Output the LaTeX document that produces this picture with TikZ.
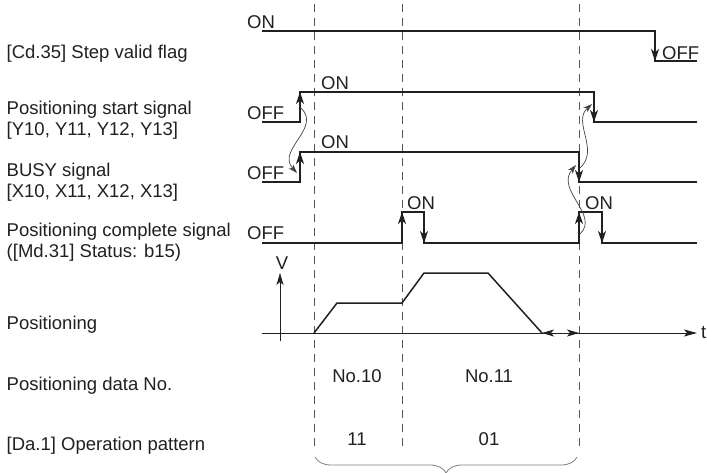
\documentclass[tikz,border=0pt]{standalone}
\usepackage{fontspec}
\setmainfont{Liberation Sans}
\usetikzlibrary{arrows.meta, decorations.pathreplacing}
\definecolor{ink}{HTML}{231F20}
\definecolor{guidegray}{HTML}{555555}
\definecolor{bracegray}{HTML}{808080}

\begin{document}
\begin{tikzpicture}[
  x=1pt, y=-1pt,
  font=\fontsize{18.5}{21}\selectfont,
  lbl/.style={anchor=west, inner sep=0pt, align=left, text=ink},
  lvl/.style={anchor=base west, inner sep=0pt, text=ink},
  val/.style={inner sep=0pt, text=ink},
  sig/.style={draw=ink, line width=1.8pt},
  tran/.style={draw=ink, line width=1.8pt, -{Stealth[length=12pt, width=8pt, inset=3.5pt]}},
  cause/.style={draw=ink!85, line width=0.7pt, -{Stealth[length=9pt, width=6pt, inset=2.5pt]}},
  axis/.style={draw=ink, line width=0.9pt},
  guide/.style={draw=guidegray, line width=0.8pt, dash pattern=on 8pt off 6pt}
]
\useasboundingbox (0,0) rectangle (707,472);

% signal names
\node[lbl] (flag) at (6.5,53.4) {[Cd.35] Step valid flag};
\node[lbl] (start) at (6.5,120) {Positioning start signal\\{}[Y10, Y11, Y12, Y13]};
\node[lbl] (busy) at (6.5,182.3) {BUSY signal\\{}[X10, X11, X12, X13]};
\node[lbl] (done) at (6.5,242) {Positioning complete signal\\([Md.31] Status: b15)};
\node[lbl] (motion) at (6.5,324.4) {Positioning};
\node[lbl] (datano) at (6.5,385.4) {Positioning data No.};
\node[lbl] (pattern) at (6.5,445.4) {[Da.1] Operation pattern};

% timing guides
\draw[guide] (314,4) -- (314,451);
\draw[guide] (402,4) -- (402,451);
\draw[guide] (579,4) -- (579,451);

% step valid flag
\draw[sig] (262,31) -- (655,31) -- (655,61) -- (697,61);
\draw[tran] (655,31) -- (655,61);
\node[lvl] (flagon) at (247,28) {ON};
\node[lvl] (flagoff) at (662,59) {OFF};

% positioning start signal
\draw[sig] (262,122) -- (300,122) -- (300,92) -- (594,92) -- (594,122) -- (697,122);
\draw[tran] (300,122) -- (300,92);
\draw[tran] (594,92) -- (594,122);
\node[lvl] (startoff) at (247,119) {OFF};
\node[lvl] (starton) at (321,89) {ON};

% busy signal
\draw[sig] (262,182) -- (300,182) -- (300,152) -- (579,152) -- (579,182) -- (697,182);
\draw[tran] (300,182) -- (300,152);
\draw[tran] (579,152) -- (579,182);
\node[lvl] (busyoff) at (247,179) {OFF};
\node[lvl] (busyon) at (321,148) {ON};

% positioning complete signal
\draw[sig] (262,243) -- (402,243) -- (402,212) -- (424,212) -- (424,243)
  -- (579,243) -- (579,212) -- (602,212) -- (602,243) -- (697,243);
\draw[tran] (402,243) -- (402,212);
\draw[tran] (424,212) -- (424,243);
\draw[tran] (579,243) -- (579,212);
\draw[tran] (602,212) -- (602,243);
\node[lvl] (doneoff) at (247,239) {OFF};
\node[lvl] (doneon) at (407,209) {ON};
\node[lvl] (doneonb) at (585,209) {ON};

% cause and effect
\draw[cause] (301,108) .. controls (322,128) and (276,150) .. (297,173);
\draw[cause] (580,168) .. controls (600,150) and (572,122) .. (592,104);
\draw[cause] (580,234) .. controls (600,215) and (555,190) .. (576,165);

% speed profile
\draw[axis, -{Stealth[length=13pt, width=7pt, inset=3pt]}] (262,333) -- (697,333);
\draw[axis, -{Stealth[length=12pt, width=7pt, inset=3pt]}] (280,341) -- (280,273);
\node[val, anchor=west] (t) at (701,333) {t};
\node[val] (v) at (282,263) {V};
\draw[sig, line width=1.5pt] (314,333) -- (337,303) -- (402,303) -- (424,273) -- (488,273) -- (542,333);
\draw[axis, {Stealth[length=12pt, width=7pt, inset=3pt]}-{Stealth[length=12pt, width=7pt, inset=3pt]}] (542,333) -- (579,333);

% data numbers and patterns
\node[val] (no10) at (357,376) {No.10};
\node[val] (no11) at (489,376) {No.11};
\node[val] (pat10) at (357,439) {11};
\node[val] (pat11) at (489,439) {01};
\draw[draw=bracegray, line width=0.8pt, decorate, decoration={brace, amplitude=16pt}] (577,457) -- (315,457);
\end{tikzpicture}
\end{document}
